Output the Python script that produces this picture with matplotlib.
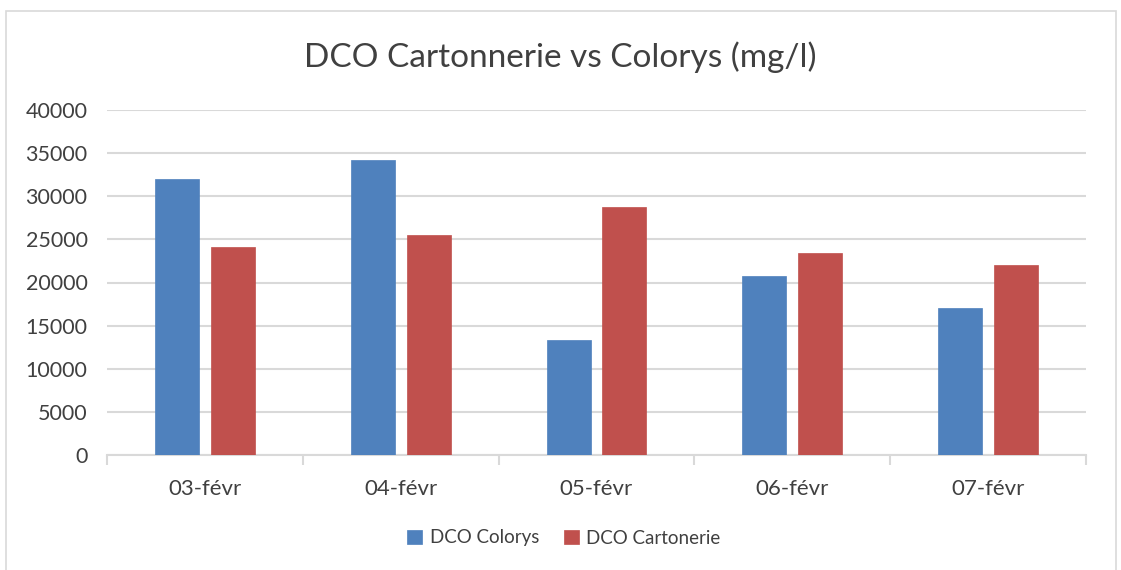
import matplotlib
matplotlib.use("Agg")
import matplotlib.pyplot as plt
import numpy as np
from matplotlib.patches import Rectangle

# données
jours = ["03-févr", "04-févr", "05-févr", "06-févr", "07-févr"]
dco_colorys = [32000, 34200, 13300, 20700, 17100]
dco_cartonerie = [24100, 25500, 28700, 23400, 22000]
y_ticks = [0, 5000, 10000, 15000, 20000, 25000, 30000, 35000, 40000]

plt.rcParams['font.family'] = ['Lato', 'DejaVu Sans']
texte = '#404040'
grille = '#d9d9d9'

fig = plt.figure(figsize=(11.21, 5.70), dpi=100)
# cadre du graphique
fig.patches.append(Rectangle((6 / 1121, -0.05), 1110 / 1121, 1.05 - 11 / 570,
                             transform=fig.transFigure, fill=False,
                             edgecolor=grille, linewidth=1.2))

ax = fig.add_axes([107 / 1121, 1 - 455 / 570, (1086 - 107) / 1121, (455 - 110) / 570])

x = np.arange(len(jours))
w = 0.225
ecart = 0.03
ax.bar(x - w / 2 - ecart, dco_colorys, w, color='#4F81BD', label='DCO Colorys',
       edgecolor='#4F81BD', linewidth=0.5, zorder=3)
ax.bar(x + w / 2 + ecart, dco_cartonerie, w, color='#C0504D', label='DCO Cartonerie',
       edgecolor='#C0504D', linewidth=0.5, zorder=3)

ax.set_xlim(-0.5, len(jours) - 0.5)
ax.set_ylim(0, 40000)
ax.set_yticks(y_ticks)
ax.set_yticklabels([str(v) for v in y_ticks])
ax.yaxis.grid(True, color=grille, linewidth=1.5, zorder=0)
ax.tick_params(axis='y', length=0, pad=14, labelsize=15.5, labelcolor=texte)

# ticks aux limites des catégories
ax.set_xticks(np.arange(-0.5, len(jours)), minor=False)
ax.set_xticklabels([])
ax.set_xticks(x, minor=True)
ax.set_xticklabels(jours, minor=True)
ax.tick_params(axis='x', which='major', length=7, color=grille, width=1.5)
ax.tick_params(axis='x', which='minor', length=0, pad=17, labelsize=16, labelcolor=texte)

for s in ['top', 'right', 'left']:
    ax.spines[s].set_visible(False)
ax.spines['bottom'].set_color(grille)
ax.spines['bottom'].set_linewidth(1.5)

fig.text(0.5, 1 - 57 / 570, "DCO Cartonnerie vs Colorys (mg/l)", ha='center', va='center',
         fontsize=24, color=texte)

fig.legend(loc='center', bbox_to_anchor=(0.503, 1 - 538 / 570), ncol=2, frameon=False,
           fontsize=13.5, handlelength=0.8, handleheight=0.8, columnspacing=1.3,
           handletextpad=0.4, labelcolor=texte)

fig.savefig("out.png", dpi=100)
